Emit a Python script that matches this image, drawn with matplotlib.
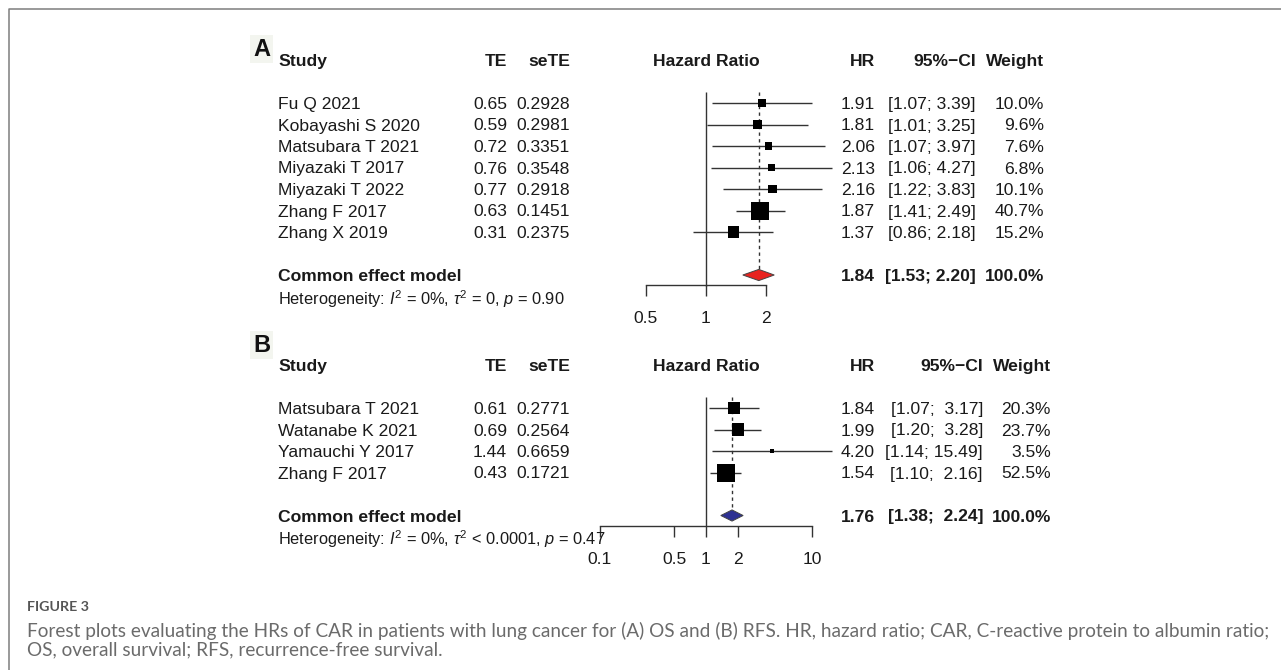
import numpy as np
import matplotlib
matplotlib.use("Agg")
import matplotlib.pyplot as plt
from matplotlib.patches import Polygon
from matplotlib.lines import Line2D
import matplotlib.transforms as mtransforms
from matplotlib.ticker import NullLocator, FixedLocator

# ---------------- data ----------------
studies_a = ["Fu Q 2021", "Kobayashi S 2020", "Matsubara T 2021", "Miyazaki T 2017",
             "Miyazaki T 2022", "Zhang F 2017", "Zhang X 2019"]
te_a = [0.65, 0.59, 0.72, 0.76, 0.77, 0.63, 0.31]
sete_a = ["0.2928", "0.2981", "0.3351", "0.3548", "0.2918", "0.1451", "0.2375"]
hr_a = [1.91, 1.81, 2.06, 2.13, 2.16, 1.87, 1.37]
lo_a = [1.07, 1.01, 1.07, 1.06, 1.22, 1.41, 0.86]
hi_a = [3.39, 3.25, 3.97, 4.27, 3.83, 2.49, 2.18]
w_a = [10.0, 9.6, 7.6, 6.8, 10.1, 40.7, 15.2]
pooled_a = [1.84, 1.53, 2.20]
het_a = r"Heterogeneity: $I^2$ = 0%, $\tau^2$ = 0, $p$ = 0.90"
ticks_a = [0.5, 1, 2]

studies_b = ["Matsubara T 2021", "Watanabe K 2021", "Yamauchi Y 2017", "Zhang F 2017"]
te_b = [0.61, 0.69, 1.44, 0.43]
sete_b = ["0.2771", "0.2564", "0.6659", "0.1721"]
hr_b = [1.84, 1.99, 4.20, 1.54]
lo_b = [1.07, 1.20, 1.14, 1.10]
hi_b = [3.17, 3.28, 15.49, 2.16]
w_b = [20.3, 23.7, 3.5, 52.5]
pooled_b = [1.76, 1.38, 2.24]
het_b = r"Heterogeneity: $I^2$ = 0%, $\tau^2$ < 0.0001, $p$ = 0.47"
ticks_b = [0.1, 0.5, 1, 2, 10]

model_label = "Common effect model"
headers = ["Study", "TE", "seTE", "Hazard Ratio", "HR", "95%\u2212CI", "Weight"]
caption_title = "FIGURE 3"
caption_lines = [
    "Forest plots evaluating the HRs of CAR in patients with lung cancer for (A) OS and (B) RFS. "
    "HR, hazard ratio; CAR, C-reactive protein to albumin ratio;",
    "OS, overall survival; RFS, recurrence-free survival.",
]

# ---------------- style ----------------
W, H, DPI = 1281, 670, 100
plt.rcParams['font.family'] = ['Liberation Sans', 'DejaVu Sans']
plt.rcParams['mathtext.fontset'] = 'custom'
plt.rcParams['mathtext.rm'] = 'Liberation Sans'
plt.rcParams['mathtext.it'] = 'Liberation Sans:italic'
plt.rcParams['mathtext.bf'] = 'Liberation Sans:bold'

FS = 12.6
TXT = '#1a1a1a'
LINE = '#333333'

fig = plt.figure(figsize=(W / DPI, H / DPI), dpi=DPI)
fig.patch.set_facecolor('white')
# pixel coordinates measured from the top-left corner
px = mtransforms.Affine2D().scale(1 / W, -1 / H).translate(0, 1) + fig.transFigure


def panel(studies, te, sete, hr, lo, hi, w, pooled, het, ticks, fill,
          axis_px, row0_px, center_px, k, ci_right, w_right, letter, letter_y):
    pitch = 21.5
    x0, x1, top = 560, 900, axis_px - 300
    ax = fig.add_axes([x0 / W, 1 - axis_px / H, (x1 - x0) / W, (axis_px - top) / H])
    ax.set_xscale('log')
    ax.set_xlim(np.exp((x0 - center_px) / k), np.exp((x1 - center_px) / k))
    ybot = (axis_px - row0_px) / pitch
    ax.set_ylim(ybot, (top - row0_px) / pitch)
    ax.patch.set_visible(False)
    for s in ['left', 'right', 'top']:
        ax.spines[s].set_visible(False)
    ax.spines['bottom'].set_bounds(ticks[0], ticks[-1])
    ax.spines['bottom'].set_color(LINE)
    ax.spines['bottom'].set_linewidth(1.0)
    ax.set_yticks([])
    ax.xaxis.set_major_locator(FixedLocator(ticks))
    ax.xaxis.set_minor_locator(NullLocator())
    ax.set_xticklabels([f"{t:g}" for t in ticks])
    ax.tick_params(axis='x', direction='out', length=7.9, width=1.0, color=LINE,
                   labelsize=FS, labelcolor=TXT, pad=10.5)

    n = len(studies)
    rows = np.arange(n)
    common_row = n + 1
    het_row = n + 2

    # reference line and pooled dashed line
    ax.vlines(1, -0.5, ybot, color=LINE, lw=1.0, clip_on=False)
    ax.vlines(pooled[0], -0.5, common_row - 0.3, color=LINE, lw=1.0,
              linestyles=(0, (2.4, 2.4)), clip_on=False)
    # CIs and squares
    ax.hlines(rows, lo, hi, color=LINE, lw=1.0, clip_on=False, zorder=2)
    wmax = max(w)
    side_pt = 18 * np.sqrt(np.array(w) / wmax) * 72 / DPI
    ax.scatter(hr, rows, marker='s', s=side_pt ** 2, c='black', linewidths=0,
               zorder=3, clip_on=False)
    # diamond
    est, plo, phi = pooled
    hh = 0.26
    ax.add_patch(Polygon([(plo, common_row), (est, common_row - hh), (phi, common_row),
                          (est, common_row + hh)], closed=True, facecolor=fill,
                         edgecolor='#444444', lw=0.7, clip_on=False, zorder=3))

    tr = mtransforms.blended_transform_factory(px, ax.transData)
    kw = dict(transform=tr, fontsize=FS, color=TXT, va='center_baseline')
    hrow = -2
    hx = [(278, 'left'), (507, 'right'), (570, 'right'), (center_px, 'center'),
          (875, 'right'), (ci_right, 'right'), (w_right, 'right')]
    for (x, ha), lab in zip(hx, headers):
        ax.text(x, hrow, lab, ha=ha, fontweight='bold', **kw)

    hi_all = list(hi) + [phi]
    wid = max(len(f"{v:.2f}") for v in hi_all)
    lo_all = list(lo) + [plo]
    lwid = max(len(f"{v:.2f}") for v in lo_all)

    def ci(a, b):
        return f"[{f'{a:.2f}'.rjust(lwid)}; {f'{b:.2f}'.rjust(wid)}]"

    for i in range(n):
        ax.text(278, i, studies[i], ha='left', **kw)
        ax.text(507, i, f"{te[i]:.2f}", ha='right', **kw)
        ax.text(570, i, sete[i], ha='right', **kw)
        ax.text(875, i, f"{hr[i]:.2f}", ha='right', **kw)
        ax.text(ci_right, i, ci(lo[i], hi[i]), ha='right', **kw)
        ax.text(w_right, i, f"{w[i]:.1f}%", ha='right', **kw)
    ax.text(278, common_row, model_label, ha='left', fontweight='bold', **kw)
    ax.text(875, common_row, f"{est:.2f}", ha='right', fontweight='bold', **kw)
    ax.text(ci_right, common_row, ci(plo, phi), ha='right', fontweight='bold', **kw)
    ax.text(w_right, common_row, "100.0%", ha='right', fontweight='bold', **kw)
    kw2 = dict(kw)
    kw2['fontsize'] = FS - 0.8
    ax.text(278, het_row, het, ha='left', **kw2)

    fig.text(253, letter_y, letter, transform=px, fontsize=17, fontweight='bold',
             color='#111111', ha='left', va='center_baseline',
             bbox=dict(boxstyle='square,pad=0.12', facecolor='#f3f5ef', edgecolor='none'))
    return ax


panel(studies_a, te_a, sete_a, hr_a, lo_a, hi_a, w_a, pooled_a, het_a, ticks_a,
      '#e8231f', axis_px=285.5, row0_px=103, center_px=706, k=60 / np.log(2),
      ci_right=976, w_right=1044, letter='A', letter_y=46.5)
panel(studies_b, te_b, sete_b, hr_b, lo_b, hi_b, w_b, pooled_b, het_b, ticks_b,
      '#2e3192', axis_px=526, row0_px=408, center_px=706, k=106 / np.log(10),
      ci_right=983, w_right=1051, letter='B', letter_y=342.5)

# frame lines (top and left)
fig.add_artist(Line2D([9, 9, W], [H, 9, 9], transform=px, color='#7d7d7d', lw=1.1))

# caption
fig.text(27, 606, caption_title, transform=px, fontsize=10.3, fontweight='bold',
         color='#555555', family=['Lato', 'DejaVu Sans'], ha='left', va='center_baseline')
cap_texts = []
for i, line in enumerate(caption_lines):
    cap_texts.append(fig.text(27, 629 + 19 * i, line, transform=px, fontsize=11,
                              color='#6b6b6b', family=['Lato', 'DejaVu Sans'],
                              ha='left', va='center_baseline'))
fig.canvas.draw()
r = fig.canvas.get_renderer()
wpx = cap_texts[0].get_window_extent(r).width
fs = 11 * 1241 / wpx
for t in cap_texts:
    t.set_fontsize(fs)

fig.savefig('out.png', dpi=DPI, facecolor='white')
